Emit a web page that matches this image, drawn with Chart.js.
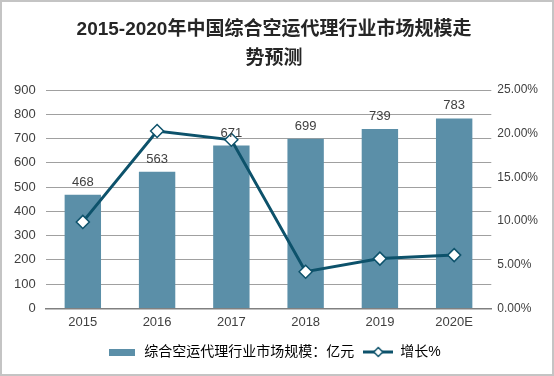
<!DOCTYPE html>
<html>
<head>
<meta charset="utf-8">
<script src="https://cdn.jsdelivr.net/npm/chart.js@4"></script>
<style>
  body { margin: 0; background: #fff; }
  #wrap { width: 554px; height: 376px; box-sizing: border-box; border: 2px solid #c4c4c4; position: relative; }
</style>
</head>
<body>
<div id="wrap"><canvas id="myChart"></canvas></div>
<script>
// Data
const categories = ["2015", "2016", "2017", "2018", "2019", "2020E"];
const marketSize = [468, 563, 671, 699, 739, 783];
const growthPct = [9.9, 20.3, 19.3, 4.2, 5.7, 6.1];
const titleLines = ["2015-2020年中国综合空运代理行业市场规模走", "势预测"];
const barLabel = "综合空运代理行业市场规模：亿元";
const lineLabel = "增长%";

const barColor = "#5b8fa8";
const lineColor = "#0d526b";
const fontFamily = "'Liberation Sans', Arial, 'Noto Sans CJK SC', sans-serif";

// legend icons
function makeIcon(w, h, draw) {
  const c = document.createElement("canvas");
  c.width = w; c.height = h;
  draw(c.getContext("2d"));
  return c;
}
const barIcon = makeIcon(26, 7, ctx => {
  ctx.fillStyle = barColor;
  ctx.fillRect(0, 0, 26, 7);
});
const lineIcon = makeIcon(30, 12, ctx => {
  ctx.strokeStyle = lineColor;
  ctx.lineWidth = 3;
  ctx.beginPath(); ctx.moveTo(0, 6); ctx.lineTo(30, 6); ctx.stroke();
  ctx.fillStyle = "#fff";
  ctx.lineWidth = 1.5;
  ctx.beginPath();
  ctx.moveTo(15, 1.5); ctx.lineTo(19.5, 6); ctx.lineTo(15, 10.5); ctx.lineTo(10.5, 6);
  ctx.closePath(); ctx.fill(); ctx.stroke();
});

// value labels above bars
const barValues = {
  id: "barValues",
  afterDatasetsDraw(chart) {
    const ctx = chart.ctx;
    const meta = chart.getDatasetMeta(0);
    ctx.save();
    ctx.font = "13px " + fontFamily;
    ctx.fillStyle = "#404040";
    ctx.textAlign = "center";
    ctx.textBaseline = "bottom";
    meta.data.forEach((bar, i) => {
      ctx.fillText(marketSize[i], bar.x, bar.y - 6);
    });
    ctx.restore();
  }
};

const data = {
  labels: categories,
  datasets: [
    {
      type: "bar",
      label: barLabel,
      data: marketSize,
      backgroundColor: barColor,
      yAxisID: "y",
      order: 2,
      categoryPercentage: 1,
      barPercentage: 0.49,
    },
    {
      type: "line",
      label: lineLabel,
      data: growthPct,
      borderColor: lineColor,
      borderWidth: 3,
      pointStyle: "rectRot",
      pointRadius: 6.5,
      pointBackgroundColor: "#fff",
      pointBorderColor: lineColor,
      pointBorderWidth: 1.5,
      tension: 0,
      yAxisID: "y1",
      order: 1,
    },
  ],
};

const config = {
  data: data,
  plugins: [barValues],
  options: {
    responsive: true,
    maintainAspectRatio: false,
    animation: false,
    layout: { padding: { left: 2, right: 8, top: 0, bottom: 5 } },
    plugins: {
      title: {
        display: true,
        text: titleLines,
        color: "#262626",
        font: { size: 19, weight: "bold", family: fontFamily, lineHeight: 1.5 },
        padding: { top: 14, bottom: 17 },
      },
      legend: {
        position: "bottom",
        labels: {
          usePointStyle: true,
          pointStyleWidth: 30,
          padding: 9,
          color: "#404040",
          font: { size: 14, family: fontFamily },
          generateLabels: chart => [
            { text: barLabel, pointStyle: barIcon, datasetIndex: 0, fillStyle: barColor, strokeStyle: barColor, lineWidth: 0 },
            { text: lineLabel, pointStyle: lineIcon, datasetIndex: 1, fillStyle: "#fff", strokeStyle: lineColor, lineWidth: 0 },
          ],
        },
      },
      tooltip: { enabled: false },
    },
    scales: {
      x: {
        grid: { display: false, drawTicks: false },
        border: { color: "#808080", width: 1.5 },
        ticks: { color: "#404040", font: { size: 13, family: fontFamily }, padding: 6 },
      },
      y: {
        position: "left",
        min: 0,
        max: 900,
        ticks: { stepSize: 100, color: "#404040", font: { size: 13, family: fontFamily }, padding: 10 },
        grid: { color: "#a0a0a0", lineWidth: 1, drawTicks: false },
        border: { display: false },
      },
      y1: {
        position: "right",
        min: 0,
        max: 25,
        ticks: {
          stepSize: 5,
          color: "#404040",
          font: { size: 12, family: fontFamily },
          padding: 6,
          callback: v => v.toFixed(2) + "%",
        },
        grid: { display: false, drawTicks: false },
        border: { display: false },
      },
    },
  },
};

// Plotting
const myChart = new Chart(document.getElementById("myChart").getContext("2d"), config);
</script>
</body>
</html>
